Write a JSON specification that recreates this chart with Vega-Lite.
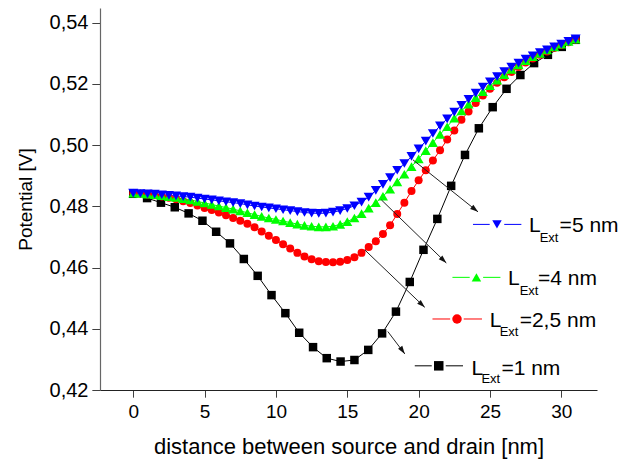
{
  "$schema": "https://vega.github.io/schema/vega-lite/v6.json",
  "width": 497,
  "height": 382,
  "autosize": {"type": "none"},
  "padding": {"left": 100, "top": 8, "right": 25, "bottom": 74},
  "background": "white",
  "config": {
    "view": {"stroke": null},
    "font": "Liberation Sans"
  },
  "datasets": {
    "curves": [
      {"series": "1 nm", "x": 0, "y": 0.4841},
      {"series": "1 nm", "x": 0.97, "y": 0.4827},
      {"series": "1 nm", "x": 1.94, "y": 0.4812},
      {"series": "1 nm", "x": 2.91, "y": 0.4797},
      {"series": "1 nm", "x": 3.88, "y": 0.4777},
      {"series": "1 nm", "x": 4.85, "y": 0.4753},
      {"series": "1 nm", "x": 5.81, "y": 0.4717},
      {"series": "1 nm", "x": 6.78, "y": 0.4679},
      {"series": "1 nm", "x": 7.75, "y": 0.4628},
      {"series": "1 nm", "x": 8.72, "y": 0.4573},
      {"series": "1 nm", "x": 9.69, "y": 0.4510},
      {"series": "1 nm", "x": 10.66, "y": 0.4451},
      {"series": "1 nm", "x": 11.63, "y": 0.4387},
      {"series": "1 nm", "x": 12.6, "y": 0.4340},
      {"series": "1 nm", "x": 13.56, "y": 0.4304},
      {"series": "1 nm", "x": 14.53, "y": 0.4293},
      {"series": "1 nm", "x": 15.5, "y": 0.4298},
      {"series": "1 nm", "x": 16.47, "y": 0.4331},
      {"series": "1 nm", "x": 17.44, "y": 0.4385},
      {"series": "1 nm", "x": 18.41, "y": 0.4456},
      {"series": "1 nm", "x": 19.38, "y": 0.4553},
      {"series": "1 nm", "x": 20.34, "y": 0.4658},
      {"series": "1 nm", "x": 21.31, "y": 0.4759},
      {"series": "1 nm", "x": 22.28, "y": 0.4867},
      {"series": "1 nm", "x": 23.25, "y": 0.4968},
      {"series": "1 nm", "x": 24.22, "y": 0.5055},
      {"series": "1 nm", "x": 25.19, "y": 0.5124},
      {"series": "1 nm", "x": 26.16, "y": 0.5184},
      {"series": "1 nm", "x": 27.13, "y": 0.5229},
      {"series": "1 nm", "x": 28.09, "y": 0.5268},
      {"series": "1 nm", "x": 29.06, "y": 0.5295},
      {"series": "1 nm", "x": 30.03, "y": 0.5321},
      {"series": "1 nm", "x": 31.0, "y": 0.5344},

      {"series": "2,5 nm", "x": 0, "y": 0.4843},
      {"series": "2,5 nm", "x": 0.5, "y": 0.4841},
      {"series": "2,5 nm", "x": 1, "y": 0.4839},
      {"series": "2,5 nm", "x": 1.5, "y": 0.4836},
      {"series": "2,5 nm", "x": 2, "y": 0.4832},
      {"series": "2,5 nm", "x": 2.5, "y": 0.4828},
      {"series": "2,5 nm", "x": 3, "y": 0.4823},
      {"series": "2,5 nm", "x": 3.5, "y": 0.4817},
      {"series": "2,5 nm", "x": 4, "y": 0.4811},
      {"series": "2,5 nm", "x": 4.5, "y": 0.4803},
      {"series": "2,5 nm", "x": 5, "y": 0.4795},
      {"series": "2,5 nm", "x": 5.5, "y": 0.4788},
      {"series": "2,5 nm", "x": 6, "y": 0.4780},
      {"series": "2,5 nm", "x": 6.5, "y": 0.4771},
      {"series": "2,5 nm", "x": 7, "y": 0.4762},
      {"series": "2,5 nm", "x": 7.5, "y": 0.4753},
      {"series": "2,5 nm", "x": 8, "y": 0.4743},
      {"series": "2,5 nm", "x": 8.5, "y": 0.4732},
      {"series": "2,5 nm", "x": 9, "y": 0.4718},
      {"series": "2,5 nm", "x": 9.5, "y": 0.4704},
      {"series": "2,5 nm", "x": 10, "y": 0.4690},
      {"series": "2,5 nm", "x": 10.5, "y": 0.4676},
      {"series": "2,5 nm", "x": 11, "y": 0.4662},
      {"series": "2,5 nm", "x": 11.5, "y": 0.4648},
      {"series": "2,5 nm", "x": 12, "y": 0.4636},
      {"series": "2,5 nm", "x": 12.5, "y": 0.4627},
      {"series": "2,5 nm", "x": 13, "y": 0.4621},
      {"series": "2,5 nm", "x": 13.5, "y": 0.4618},
      {"series": "2,5 nm", "x": 14, "y": 0.4617},
      {"series": "2,5 nm", "x": 14.5, "y": 0.4619},
      {"series": "2,5 nm", "x": 15, "y": 0.4625},
      {"series": "2,5 nm", "x": 15.5, "y": 0.4634},
      {"series": "2,5 nm", "x": 16, "y": 0.4648},
      {"series": "2,5 nm", "x": 16.5, "y": 0.4667},
      {"series": "2,5 nm", "x": 17, "y": 0.4686},
      {"series": "2,5 nm", "x": 17.5, "y": 0.4710},
      {"series": "2,5 nm", "x": 18, "y": 0.4738},
      {"series": "2,5 nm", "x": 18.5, "y": 0.4775},
      {"series": "2,5 nm", "x": 19, "y": 0.4812},
      {"series": "2,5 nm", "x": 19.5, "y": 0.4850},
      {"series": "2,5 nm", "x": 20, "y": 0.4885},
      {"series": "2,5 nm", "x": 20.5, "y": 0.4918},
      {"series": "2,5 nm", "x": 21, "y": 0.4950},
      {"series": "2,5 nm", "x": 21.5, "y": 0.4983},
      {"series": "2,5 nm", "x": 22, "y": 0.5018},
      {"series": "2,5 nm", "x": 22.5, "y": 0.5048},
      {"series": "2,5 nm", "x": 23, "y": 0.5083},
      {"series": "2,5 nm", "x": 23.5, "y": 0.5110},
      {"series": "2,5 nm", "x": 24, "y": 0.5138},
      {"series": "2,5 nm", "x": 24.5, "y": 0.5162},
      {"series": "2,5 nm", "x": 25, "y": 0.5184},
      {"series": "2,5 nm", "x": 25.5, "y": 0.5204},
      {"series": "2,5 nm", "x": 26, "y": 0.5222},
      {"series": "2,5 nm", "x": 26.5, "y": 0.5239},
      {"series": "2,5 nm", "x": 27, "y": 0.5255},
      {"series": "2,5 nm", "x": 27.5, "y": 0.5270},
      {"series": "2,5 nm", "x": 28, "y": 0.5283},
      {"series": "2,5 nm", "x": 28.5, "y": 0.5295},
      {"series": "2,5 nm", "x": 29, "y": 0.5306},
      {"series": "2,5 nm", "x": 29.5, "y": 0.5317},
      {"series": "2,5 nm", "x": 30, "y": 0.5327},
      {"series": "2,5 nm", "x": 30.5, "y": 0.5336},
      {"series": "2,5 nm", "x": 31, "y": 0.5345},

      {"series": "4 nm", "x": 0, "y": 0.4843},
      {"series": "4 nm", "x": 0.5, "y": 0.4842},
      {"series": "4 nm", "x": 1, "y": 0.4840},
      {"series": "4 nm", "x": 1.5, "y": 0.4838},
      {"series": "4 nm", "x": 2, "y": 0.4835},
      {"series": "4 nm", "x": 2.5, "y": 0.4832},
      {"series": "4 nm", "x": 3, "y": 0.4829},
      {"series": "4 nm", "x": 3.5, "y": 0.4825},
      {"series": "4 nm", "x": 4, "y": 0.4821},
      {"series": "4 nm", "x": 4.5, "y": 0.4816},
      {"series": "4 nm", "x": 5, "y": 0.4811},
      {"series": "4 nm", "x": 5.5, "y": 0.4806},
      {"series": "4 nm", "x": 6, "y": 0.4801},
      {"series": "4 nm", "x": 6.5, "y": 0.4796},
      {"series": "4 nm", "x": 7, "y": 0.4791},
      {"series": "4 nm", "x": 7.5, "y": 0.4785},
      {"series": "4 nm", "x": 8, "y": 0.4779},
      {"series": "4 nm", "x": 8.5, "y": 0.4773},
      {"series": "4 nm", "x": 9, "y": 0.4767},
      {"series": "4 nm", "x": 9.5, "y": 0.4762},
      {"series": "4 nm", "x": 10, "y": 0.4757},
      {"series": "4 nm", "x": 10.5, "y": 0.4752},
      {"series": "4 nm", "x": 11, "y": 0.4747},
      {"series": "4 nm", "x": 11.5, "y": 0.4742},
      {"series": "4 nm", "x": 12, "y": 0.4738},
      {"series": "4 nm", "x": 12.5, "y": 0.4735},
      {"series": "4 nm", "x": 13, "y": 0.4733},
      {"series": "4 nm", "x": 13.5, "y": 0.4733},
      {"series": "4 nm", "x": 14, "y": 0.4735},
      {"series": "4 nm", "x": 14.5, "y": 0.4741},
      {"series": "4 nm", "x": 15, "y": 0.4750},
      {"series": "4 nm", "x": 15.5, "y": 0.4762},
      {"series": "4 nm", "x": 16, "y": 0.4776},
      {"series": "4 nm", "x": 16.5, "y": 0.4794},
      {"series": "4 nm", "x": 17, "y": 0.4812},
      {"series": "4 nm", "x": 17.5, "y": 0.4833},
      {"series": "4 nm", "x": 18, "y": 0.4856},
      {"series": "4 nm", "x": 18.5, "y": 0.4880},
      {"series": "4 nm", "x": 19, "y": 0.4905},
      {"series": "4 nm", "x": 19.5, "y": 0.4930},
      {"series": "4 nm", "x": 20, "y": 0.4955},
      {"series": "4 nm", "x": 20.5, "y": 0.4982},
      {"series": "4 nm", "x": 21, "y": 0.5008},
      {"series": "4 nm", "x": 21.5, "y": 0.5035},
      {"series": "4 nm", "x": 22, "y": 0.5060},
      {"series": "4 nm", "x": 22.5, "y": 0.5088},
      {"series": "4 nm", "x": 23, "y": 0.5112},
      {"series": "4 nm", "x": 23.5, "y": 0.5134},
      {"series": "4 nm", "x": 24, "y": 0.5155},
      {"series": "4 nm", "x": 24.5, "y": 0.5175},
      {"series": "4 nm", "x": 25, "y": 0.5194},
      {"series": "4 nm", "x": 25.5, "y": 0.5212},
      {"series": "4 nm", "x": 26, "y": 0.5230},
      {"series": "4 nm", "x": 26.5, "y": 0.5247},
      {"series": "4 nm", "x": 27, "y": 0.5262},
      {"series": "4 nm", "x": 27.5, "y": 0.5276},
      {"series": "4 nm", "x": 28, "y": 0.5289},
      {"series": "4 nm", "x": 28.5, "y": 0.5300},
      {"series": "4 nm", "x": 29, "y": 0.5311},
      {"series": "4 nm", "x": 29.5, "y": 0.5321},
      {"series": "4 nm", "x": 30, "y": 0.5330},
      {"series": "4 nm", "x": 30.5, "y": 0.5339},
      {"series": "4 nm", "x": 31, "y": 0.5346},

      {"series": "5 nm", "x": 0, "y": 0.4843},
      {"series": "5 nm", "x": 0.5, "y": 0.4842},
      {"series": "5 nm", "x": 1, "y": 0.4841},
      {"series": "5 nm", "x": 1.5, "y": 0.4840},
      {"series": "5 nm", "x": 2, "y": 0.4838},
      {"series": "5 nm", "x": 2.5, "y": 0.4836},
      {"series": "5 nm", "x": 3, "y": 0.4834},
      {"series": "5 nm", "x": 3.5, "y": 0.4832},
      {"series": "5 nm", "x": 4, "y": 0.4830},
      {"series": "5 nm", "x": 4.5, "y": 0.4827},
      {"series": "5 nm", "x": 5, "y": 0.4824},
      {"series": "5 nm", "x": 5.5, "y": 0.4821},
      {"series": "5 nm", "x": 6, "y": 0.4818},
      {"series": "5 nm", "x": 6.5, "y": 0.4815},
      {"series": "5 nm", "x": 7, "y": 0.4812},
      {"series": "5 nm", "x": 7.5, "y": 0.4809},
      {"series": "5 nm", "x": 8, "y": 0.4805},
      {"series": "5 nm", "x": 8.5, "y": 0.4801},
      {"series": "5 nm", "x": 9, "y": 0.4798},
      {"series": "5 nm", "x": 9.5, "y": 0.4795},
      {"series": "5 nm", "x": 10, "y": 0.4792},
      {"series": "5 nm", "x": 10.5, "y": 0.4789},
      {"series": "5 nm", "x": 11, "y": 0.4786},
      {"series": "5 nm", "x": 11.5, "y": 0.4783},
      {"series": "5 nm", "x": 12, "y": 0.4780},
      {"series": "5 nm", "x": 12.5, "y": 0.4778},
      {"series": "5 nm", "x": 13, "y": 0.4777},
      {"series": "5 nm", "x": 13.5, "y": 0.4778},
      {"series": "5 nm", "x": 14, "y": 0.4781},
      {"series": "5 nm", "x": 14.5, "y": 0.4786},
      {"series": "5 nm", "x": 15, "y": 0.4793},
      {"series": "5 nm", "x": 15.5, "y": 0.4802},
      {"series": "5 nm", "x": 16, "y": 0.4814},
      {"series": "5 nm", "x": 16.5, "y": 0.4830},
      {"series": "5 nm", "x": 17, "y": 0.4852},
      {"series": "5 nm", "x": 17.5, "y": 0.4872},
      {"series": "5 nm", "x": 18, "y": 0.4894},
      {"series": "5 nm", "x": 18.5, "y": 0.4918},
      {"series": "5 nm", "x": 19, "y": 0.4940},
      {"series": "5 nm", "x": 19.5, "y": 0.4963},
      {"series": "5 nm", "x": 20, "y": 0.4988},
      {"series": "5 nm", "x": 20.5, "y": 0.5013},
      {"series": "5 nm", "x": 21, "y": 0.5038},
      {"series": "5 nm", "x": 21.5, "y": 0.5063},
      {"series": "5 nm", "x": 22, "y": 0.5086},
      {"series": "5 nm", "x": 22.5, "y": 0.5108},
      {"series": "5 nm", "x": 23, "y": 0.5130},
      {"series": "5 nm", "x": 23.5, "y": 0.5150},
      {"series": "5 nm", "x": 24, "y": 0.5170},
      {"series": "5 nm", "x": 24.5, "y": 0.5190},
      {"series": "5 nm", "x": 25, "y": 0.5207},
      {"series": "5 nm", "x": 25.5, "y": 0.5224},
      {"series": "5 nm", "x": 26, "y": 0.5240},
      {"series": "5 nm", "x": 26.5, "y": 0.5255},
      {"series": "5 nm", "x": 27, "y": 0.5268},
      {"series": "5 nm", "x": 27.5, "y": 0.5281},
      {"series": "5 nm", "x": 28, "y": 0.5292},
      {"series": "5 nm", "x": 28.5, "y": 0.5302},
      {"series": "5 nm", "x": 29, "y": 0.5311},
      {"series": "5 nm", "x": 29.5, "y": 0.5321},
      {"series": "5 nm", "x": 30, "y": 0.5330},
      {"series": "5 nm", "x": 30.5, "y": 0.5339},
      {"series": "5 nm", "x": 31, "y": 0.5347}
    ],
    "arrows": [
      {"id": "a1", "x": 19.6, "y": 0.4952, "x2": 24.16, "y2": 0.4782},
      {"id": "a2", "x": 17.39, "y": 0.4821, "x2": 21.94, "y2": 0.4615},
      {"id": "a3", "x": 16.22, "y": 0.4658, "x2": 20.43, "y2": 0.4470},
      {"id": "a4", "x": 17.84, "y": 0.4391, "x2": 19.03, "y2": 0.4318}
    ],
    "legend": [
      {"series": "5 nm", "mx": 25.49, "my": 0.4741, "l1": 23.81, "l2": 24.98, "r1": 26.0, "r2": 27.2, "lx": 27.73, "ly": 0.4717, "sx": 28.48, "sy": 0.4685, "tx": 29.88, "txt": "=5 nm"},
      {"series": "4 nm", "mx": 24.05, "my": 0.4568, "l1": 22.37, "l2": 23.58, "r1": 24.52, "r2": 25.73, "lx": 26.26, "ly": 0.4543, "sx": 27.08, "sy": 0.4510, "tx": 28.36, "txt": "=4 nm"},
      {"series": "2,5 nm", "mx": 22.69, "my": 0.4432, "l1": 20.97, "l2": 22.21, "r1": 23.16, "r2": 24.44, "lx": 24.98, "ly": 0.4407, "sx": 25.68, "sy": 0.4375, "tx": 27.08, "txt": "=2,5 nm"},
      {"series": "1 nm", "mx": 21.41, "my": 0.4279, "l1": 19.73, "l2": 20.92, "r1": 21.9, "r2": 23.11, "lx": 23.7, "ly": 0.4249, "sx": 24.4, "sy": 0.4223, "tx": 25.8, "txt": "=1 nm"}
    ]
  },
  "layer": [
    {
      "data": {"name": "curves"},
      "mark": {"type": "line", "strokeWidth": 1},
      "encoding": {
        "x": {"field": "x", "type": "quantitative", "scale": {"domain": [-2.33, 32.5], "nice": false, "zero": false},
          "axis": {"orient": "bottom", "grid": false, "title": "distance between source and drain [nm]",
            "titleFont": "Liberation Sans", "titleFontWeight": "normal", "titleColor": "#000", "titleFontSize": 22, "titlePadding": 15,
            "labelFont": "Liberation Sans", "labelColor": "#000", "labelFontSize": 19, "labelPadding": 5,
            "values": [0, 2.5, 5, 7.5, 10, 12.5, 15, 17.5, 20, 22.5, 25, 27.5, 30, 32.5],
            "labelExpr": "datum.value % 5 === 0 ? format(datum.value, 'd') : ''",
            "tickSize": 7, "tickColor": "#000", "tickWidth": 1,
            "tickDash": {"condition": {"test": "datum.value % 5 !== 0", "value": [4, 20]}, "value": [1, 0]},
            "domainColor": "#222", "domainWidth": 1, "labelFlush": false, "labelOverlap": false}},
        "y": {"field": "y", "type": "quantitative", "scale": {"domain": [0.42, 0.5448], "nice": false, "zero": false},
          "axis": {"orient": "left", "grid": false, "title": "Potential [V]",
            "titleFont": "Liberation Sans", "titleFontWeight": "normal", "titleColor": "#000", "titleFontSize": 19, "titlePadding": 14,
            "labelFont": "Liberation Sans", "labelColor": "#000", "labelFontSize": 20, "labelPadding": 4,
            "values": [0.42, 0.43, 0.44, 0.45, 0.46, 0.47, 0.48, 0.49, 0.50, 0.51, 0.52, 0.53, 0.54],
            "labelExpr": "round(datum.value * 100) % 2 === 0 ? replace(format(datum.value, '.2f'), '.', ',') : ''",
            "tickSize": 8, "tickColor": "#000", "tickWidth": 1,
            "tickDash": {"condition": {"test": "round(datum.value * 100) % 2 !== 0", "value": [5, 20]}, "value": [1, 0]},
            "domainColor": "#666", "domainWidth": 1.2, "labelFlush": false, "labelOverlap": false}},
        "color": {"field": "series", "type": "nominal", "scale": {"domain": ["1 nm", "2,5 nm", "4 nm", "5 nm"], "range": ["#000000", "#ff0000", "#00ff00", "#0000ff"]}, "legend": null},
        "detail": {"field": "series"}
      }
    },
    {
      "data": {"name": "curves"},
      "transform": [{"filter": "datum.series === '1 nm'"}],
      "mark": {"type": "point", "filled": true, "opacity": 1, "strokeWidth": 0, "shape": "square", "size": 72, "color": "#000000"},
      "encoding": {
        "x": {"field": "x", "type": "quantitative"},
        "y": {"field": "y", "type": "quantitative"}
      }
    },
    {
      "data": {"name": "curves"},
      "transform": [{"filter": "datum.series === '2,5 nm'"}],
      "mark": {"type": "point", "filled": true, "opacity": 1, "strokeWidth": 0, "shape": "circle", "size": 64, "color": "#ff0000"},
      "encoding": {
        "x": {"field": "x", "type": "quantitative"},
        "y": {"field": "y", "type": "quantitative"}
      }
    },
    {
      "data": {"name": "curves"},
      "transform": [{"filter": "datum.series === '4 nm'"}],
      "mark": {"type": "point", "filled": true, "opacity": 1, "strokeWidth": 0, "shape": "triangle-up", "size": 100, "color": "#00ff00"},
      "encoding": {
        "x": {"field": "x", "type": "quantitative"},
        "y": {"field": "y", "type": "quantitative"}
      }
    },
    {
      "data": {"name": "curves"},
      "transform": [{"filter": "datum.series === '5 nm'"}],
      "mark": {"type": "point", "filled": true, "opacity": 1, "strokeWidth": 0, "shape": "triangle-down", "size": 100, "color": "#0000ff"},
      "encoding": {
        "x": {"field": "x", "type": "quantitative"},
        "y": {"field": "y", "type": "quantitative"}
      }
    },
    {
      "data": {"name": "arrows"},
      "mark": {"type": "rule", "color": "#222", "strokeWidth": 1},
      "encoding": {
        "x": {"field": "x", "type": "quantitative"},
        "y": {"field": "y", "type": "quantitative"},
        "x2": {"field": "x2"},
        "y2": {"field": "y2"}
      }
    },
    {
      "data": {"name": "arrows"},
      "mark": {"type": "point", "filled": true, "color": "#111", "opacity": 1, "strokeWidth": 0, "shape": "M0,0L-2,-0.65L-2,0.65Z", "size": 64},
      "encoding": {
        "x": {"field": "x2", "type": "quantitative"},
        "y": {"field": "y2", "type": "quantitative"},
        "angle": {"condition": [
          {"test": "datum.id === 'a1'", "value": 38.5},
          {"test": "datum.id === 'a2'", "value": 44.2},
          {"test": "datum.id === 'a3'", "value": 43.8}
        ], "value": 54.8}
      }
    },
    {
      "data": {"name": "legend"},
      "mark": {"type": "rule", "strokeWidth": 1},
      "encoding": {
        "x": {"field": "l1", "type": "quantitative"},
        "x2": {"field": "l2"},
        "y": {"field": "my", "type": "quantitative"},
        "color": {"field": "series", "type": "nominal", "legend": null}
      }
    },
    {
      "data": {"name": "legend"},
      "mark": {"type": "rule", "strokeWidth": 1},
      "encoding": {
        "x": {"field": "r1", "type": "quantitative"},
        "x2": {"field": "r2"},
        "y": {"field": "my", "type": "quantitative"},
        "color": {"field": "series", "type": "nominal", "legend": null}
      }
    },
    {
      "data": {"name": "legend"},
      "mark": {"type": "point", "filled": true, "opacity": 1, "strokeWidth": 0, "size": 90},
      "encoding": {
        "x": {"field": "mx", "type": "quantitative"},
        "y": {"field": "my", "type": "quantitative"},
        "color": {"field": "series", "type": "nominal", "legend": null},
        "shape": {"field": "series", "type": "nominal", "scale": {"domain": ["1 nm", "2,5 nm", "4 nm", "5 nm"], "range": ["square", "circle", "triangle-up", "triangle-down"]}, "legend": null}
      }
    },
    {
      "data": {"name": "legend"},
      "mark": {"type": "text", "align": "left", "baseline": "alphabetic", "fontSize": 21, "font": "Liberation Sans", "color": "#000"},
      "encoding": {
        "x": {"field": "lx", "type": "quantitative"},
        "y": {"field": "ly", "type": "quantitative"},
        "text": {"value": "L"}
      }
    },
    {
      "data": {"name": "legend"},
      "mark": {"type": "text", "align": "left", "baseline": "alphabetic", "fontSize": 13, "font": "Liberation Sans", "color": "#000"},
      "encoding": {
        "x": {"field": "sx", "type": "quantitative"},
        "y": {"field": "sy", "type": "quantitative"},
        "text": {"value": "Ext"}
      }
    },
    {
      "data": {"name": "legend"},
      "mark": {"type": "text", "align": "left", "baseline": "alphabetic", "fontSize": 21, "font": "Liberation Sans", "color": "#000"},
      "encoding": {
        "x": {"field": "tx", "type": "quantitative"},
        "y": {"field": "ly", "type": "quantitative"},
        "text": {"field": "txt"}
      }
    }
  ]
}
